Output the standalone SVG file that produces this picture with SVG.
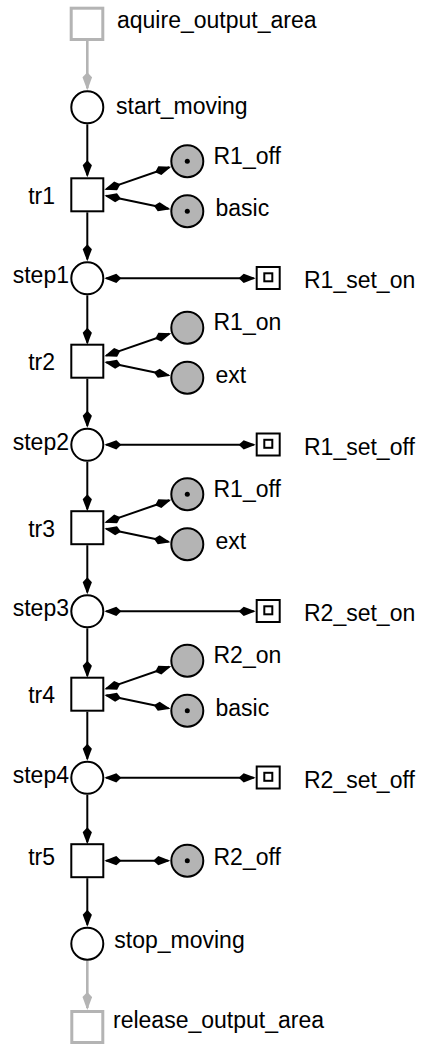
<svg xmlns="http://www.w3.org/2000/svg" width="423" height="1044" viewBox="0 0 423 1044">
  <style>
    text { font-family: "Liberation Sans", Arial, sans-serif; font-size: 23px; fill: #000; }
    .end { text-anchor: end; }
    .place { fill: #fff; stroke: #000; stroke-width: 2; }
    .res { fill: #b4b4b4; stroke: #000; stroke-width: 2; }
    .trans { fill: #fff; stroke: #000; stroke-width: 2; }
    .ext-trans { fill: #fff; stroke: #b4b4b4; stroke-width: 3; }
    .sig { fill: #fff; stroke: #000; stroke-width: 2; }
    .arc { fill: none; stroke: #000; stroke-width: 2; }
    .arc-ext { fill: none; stroke: #b4b4b4; stroke-width: 2.6; }
    .tok { fill: #000; }
  </style>
  <defs>
    <marker id="ah" viewBox="-18 -5 19 10" markerWidth="19" markerHeight="10" refX="-2" refY="0" markerUnits="userSpaceOnUse" orient="auto-start-reverse">
      <path d="M0,0 L-12,-4.6 L-17,0 L-12,4.6 Z" fill="#000"/>
    </marker>
    <marker id="ah-ext" viewBox="-19 -5 20 10" markerWidth="20" markerHeight="10" refX="-2" refY="0" markerUnits="userSpaceOnUse" orient="auto">
      <path d="M0,0 L-13,-4.8 L-18,0 L-13,4.8 Z" fill="#b4b4b4"/>
    </marker>
  </defs>

  <!-- connectors -->
  <g id="connectors">
    <!-- external in/out arcs -->
    <path class="arc-ext" d="M87.3,41 L87.3,88.3" marker-end="url(#ah-ext)"/>
    <path class="arc-ext" d="M87.3,960.7 L87.3,1008" marker-end="url(#ah-ext)"/>
    <!-- main chain -->
    <path class="arc" d="M87.3,124.3 L87.3,175.3" marker-end="url(#ah)"/>
    <path class="arc" d="M87.3,212.3 L87.3,259.3" marker-end="url(#ah)"/>
    <path class="arc" d="M87.3,295.3 L87.3,342.7" marker-end="url(#ah)"/>
    <path class="arc" d="M87.3,378.7 L87.3,425.8" marker-end="url(#ah)"/>
    <path class="arc" d="M87.3,461.8 L87.3,509.2" marker-end="url(#ah)"/>
    <path class="arc" d="M87.3,545.2 L87.3,592.3" marker-end="url(#ah)"/>
    <path class="arc" d="M87.3,628.3 L87.3,675.7" marker-end="url(#ah)"/>
    <path class="arc" d="M87.3,711.7 L87.3,758.8" marker-end="url(#ah)"/>
    <path class="arc" d="M87.3,794.8 L87.3,842.2" marker-end="url(#ah)"/>
    <path class="arc" d="M87.3,878.2 L87.3,924.7" marker-end="url(#ah)"/>
    <!-- resource read arcs -->
    <path class="arc" d="M106.2,189.1 L169.3,167.3" marker-start="url(#ah)" marker-end="url(#ah)"/>
    <path class="arc" d="M106.3,195.8 L168.5,208.8" marker-start="url(#ah)" marker-end="url(#ah)"/>
    <path class="arc" d="M106.2,355.6 L169.3,333.8" marker-start="url(#ah)" marker-end="url(#ah)"/>
    <path class="arc" d="M106.3,362.3 L168.5,375.3" marker-start="url(#ah)" marker-end="url(#ah)"/>
    <path class="arc" d="M106.2,522.1 L169.3,500.3" marker-start="url(#ah)" marker-end="url(#ah)"/>
    <path class="arc" d="M106.3,528.8 L168.5,541.8" marker-start="url(#ah)" marker-end="url(#ah)"/>
    <path class="arc" d="M106.2,688.6 L169.3,666.8" marker-start="url(#ah)" marker-end="url(#ah)"/>
    <path class="arc" d="M106.3,695.3 L168.5,708.3" marker-start="url(#ah)" marker-end="url(#ah)"/>
    <path class="arc" d="M106.3,860.7 L168.3,860.7" marker-start="url(#ah)" marker-end="url(#ah)"/>
    <!-- signal arcs -->
    <path class="arc" d="M106.3,278.3 L253.7,278.3" marker-start="url(#ah)" marker-end="url(#ah)"/>
    <path class="arc" d="M106.3,444.8 L253.7,444.8" marker-start="url(#ah)" marker-end="url(#ah)"/>
    <path class="arc" d="M106.3,611.3 L253.7,611.3" marker-start="url(#ah)" marker-end="url(#ah)"/>
    <path class="arc" d="M106.3,777.8 L253.7,777.8" marker-start="url(#ah)" marker-end="url(#ah)"/>
  </g>

  <!-- external transitions -->
  <g id="aquire_output_area">
    <rect class="ext-trans" x="71.2" y="8.2" width="31.6" height="31.3"/>
    <text x="117" y="27.8">aquire_output_area</text>
  </g>
  <g id="release_output_area">
    <rect class="ext-trans" x="71.8" y="1011.5" width="31" height="31"/>
    <text x="113" y="1028.3">release_output_area</text>
  </g>

  <!-- places of the main chain -->
  <g id="start_moving">
    <circle class="place" cx="87.3" cy="107.3" r="16"/>
    <text x="116" y="113.8">start_moving</text>
  </g>
  <g id="step1">
    <circle class="place" cx="87.3" cy="278.3" r="16"/>
    <text class="end" x="69" y="283.3">step1</text>
  </g>
  <g id="step2">
    <circle class="place" cx="87.3" cy="444.8" r="16"/>
    <text class="end" x="69" y="449.8">step2</text>
  </g>
  <g id="step3">
    <circle class="place" cx="87.3" cy="611.3" r="16"/>
    <text class="end" x="69" y="616.3">step3</text>
  </g>
  <g id="step4">
    <circle class="place" cx="87.3" cy="777.8" r="16"/>
    <text class="end" x="69" y="782.8">step4</text>
  </g>
  <g id="stop_moving">
    <circle class="place" cx="87.3" cy="943.7" r="16"/>
    <text x="114.3" y="948.3">stop_moving</text>
  </g>

  <!-- transitions -->
  <g id="tr1">
    <rect class="trans" x="71.3" y="178.3" width="32" height="33"/>
    <text class="end" x="55" y="203.7">tr1</text>
  </g>
  <g id="tr2">
    <rect class="trans" x="71.3" y="344.7" width="32" height="33"/>
    <text class="end" x="55" y="370.2">tr2</text>
  </g>
  <g id="tr3">
    <rect class="trans" x="71.3" y="511.2" width="32" height="33"/>
    <text class="end" x="55" y="536.7">tr3</text>
  </g>
  <g id="tr4">
    <rect class="trans" x="71.3" y="677.7" width="32" height="33"/>
    <text class="end" x="55" y="703.2">tr4</text>
  </g>
  <g id="tr5">
    <rect class="trans" x="71.3" y="844.2" width="32" height="33"/>
    <text class="end" x="55" y="865.2">tr5</text>
  </g>

  <!-- resource places -->
  <g id="tr1_R1_off">
    <circle class="res" cx="187.3" cy="161.2" r="16"/>
    <circle class="tok" cx="187.3" cy="161.2" r="2.5"/>
    <text x="213.5" y="163.7">R1_off</text>
  </g>
  <g id="tr1_basic">
    <circle class="res" cx="187.3" cy="211.2" r="16"/>
    <circle class="tok" cx="187.3" cy="211.2" r="2.5"/>
    <text x="215.5" y="216.2">basic</text>
  </g>
  <g id="tr2_R1_on">
    <circle class="res" cx="187.3" cy="327.7" r="16"/>
    <text x="213.5" y="330.2">R1_on</text>
  </g>
  <g id="tr2_ext">
    <circle class="res" cx="187.3" cy="377.7" r="16"/>
    <text x="215.5" y="382.7">ext</text>
  </g>
  <g id="tr3_R1_off">
    <circle class="res" cx="187.3" cy="494.2" r="16"/>
    <circle class="tok" cx="187.3" cy="494.2" r="2.5"/>
    <text x="213.5" y="496.7">R1_off</text>
  </g>
  <g id="tr3_ext">
    <circle class="res" cx="187.3" cy="544.2" r="16"/>
    <text x="215.5" y="549.2">ext</text>
  </g>
  <g id="tr4_R2_on">
    <circle class="res" cx="187.3" cy="660.7" r="16"/>
    <text x="213.5" y="663.2">R2_on</text>
  </g>
  <g id="tr4_basic">
    <circle class="res" cx="187.3" cy="710.7" r="16"/>
    <circle class="tok" cx="187.3" cy="710.7" r="2.5"/>
    <text x="215.5" y="715.7">basic</text>
  </g>
  <g id="tr5_R2_off">
    <circle class="res" cx="187.3" cy="860.7" r="16"/>
    <circle class="tok" cx="187.3" cy="860.7" r="2.5"/>
    <text x="213.5" y="865.2">R2_off</text>
  </g>

  <!-- signal outputs -->
  <g id="R1_set_on">
    <rect class="sig" x="256.7" y="267" width="23" height="22"/>
    <rect class="sig" x="264.3" y="273.3" width="8" height="8"/>
    <text x="304" y="288.3">R1_set_on</text>
  </g>
  <g id="R1_set_off">
    <rect class="sig" x="256.7" y="433.5" width="23" height="22"/>
    <rect class="sig" x="264.3" y="439.8" width="8" height="8"/>
    <text x="304" y="454.8">R1_set_off</text>
  </g>
  <g id="R2_set_on">
    <rect class="sig" x="256.7" y="600" width="23" height="22"/>
    <rect class="sig" x="264.3" y="606.3" width="8" height="8"/>
    <text x="304" y="621.3">R2_set_on</text>
  </g>
  <g id="R2_set_off">
    <rect class="sig" x="256.7" y="766.5" width="23" height="22"/>
    <rect class="sig" x="264.3" y="772.8" width="8" height="8"/>
    <text x="304" y="787.8">R2_set_off</text>
  </g>
</svg>
